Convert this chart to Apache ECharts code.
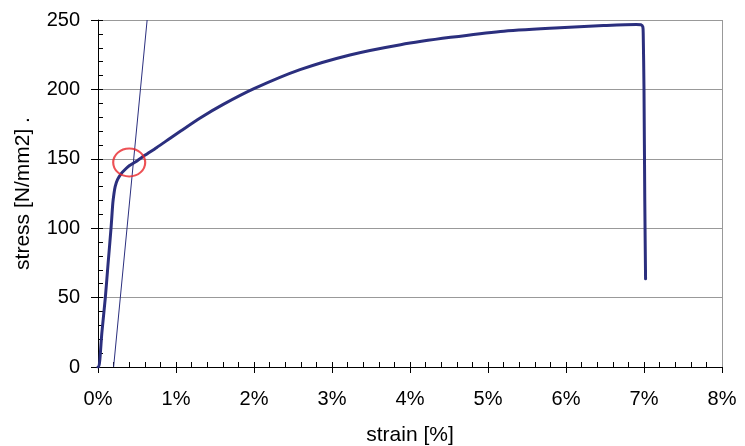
<!DOCTYPE html>
<html>
<head>
<meta charset="utf-8">
<script src="https://cdn.jsdelivr.net/npm/echarts@6/dist/echarts.min.js"></script>
<style>html,body{margin:0;padding:0;background:#fff}#c{width:745px;height:446px}</style>
</head>
<body>
<div id="c"></div>
<script>
// strain [%]
const curveStrain = [0.0, 0.01, 0.05, 0.094, 0.13, 0.167, 0.19, 0.205, 0.22, 0.25, 0.3, 0.35, 0.4, 0.5, 0.6, 0.75, 0.93, 1.06, 1.31, 1.6, 2.0, 2.59, 3.23, 3.88, 4.52, 5.16, 5.86, 6.48, 6.9, 6.96, 6.985, 6.99, 7.0, 7.01, 7.02];
// stress [N/mm2]
const curveStress = [0, 0, 25, 50, 75, 100, 118, 125, 130, 135, 139.5, 142.5, 145, 148.5, 152.5, 158, 165, 170, 179.4, 189, 200.5, 214.2, 224.8, 232.2, 237.5, 241.8, 244.3, 246, 246.8, 246.6, 245, 240, 200, 120, 63.5];
const offsetStrain = [0.2, 0.63];
const offsetStress = [0, 250];
const markStrain = [0.40];
const markStress = [147.3];
const xTicks = [0, 1, 2, 3, 4, 5, 6, 7, 8];
const yTicks = [0, 50, 100, 150, 200, 250];

const navy = '#2b2f7e';
const font = 'Liberation Sans, Arial, sans-serif';

const chart = echarts.init(document.getElementById('c'), null, {renderer: 'canvas'});
chart.setOption({
  animation: false,
  grid: {left: 98, right: 23, top: 20, bottom: 79, containLabel: false, outerBoundsMode: 'none'},
  xAxis: [{
    type: 'value', min: xTicks[0], max: xTicks[xTicks.length - 1], interval: 1,
    position: 'bottom',
    axisLine: {show: true, lineStyle: {color: '#000', width: 1}},
    axisTick: {show: true, inside: false, length: 6, lineStyle: {color: '#000'}},
    axisLabel: {formatter: v => v + '%', color: '#000', fontSize: 20, fontFamily: font, margin: 22},
    splitLine: {show: false},
    name: 'strain [%]', nameLocation: 'middle', nameGap: 58,
    nameTextStyle: {color: '#000', fontSize: 21, fontFamily: font}
  }, {
    type: 'value', min: xTicks[0], max: xTicks[xTicks.length - 1], interval: 1,
    position: 'bottom', gridIndex: 0,
    axisLine: {show: false},
    axisTick: {show: true, inside: true, length: 5, lineStyle: {color: '#000'}},
    minorTick: {show: true, splitNumber: 5, length: 5, lineStyle: {color: '#000'}},
    axisLabel: {show: false},
    splitLine: {show: false}
  }],
  yAxis: [{
    type: 'value', min: yTicks[0], max: yTicks[yTicks.length - 1], interval: 50,
    position: 'left',
    axisLine: {show: true, lineStyle: {color: '#000', width: 1}},
    axisTick: {show: true, inside: false, length: 7, lineStyle: {color: '#000'}},
    axisLabel: {color: '#000', fontSize: 20, fontFamily: font, margin: 18},
    splitLine: {show: true, lineStyle: {color: '#999', width: 1}},
    name: 'stress [N/mm2] .', nameLocation: 'middle', nameGap: 64, nameRotate: 90,
    nameTextStyle: {color: '#000', fontSize: 21, fontFamily: font}
  }, {
    type: 'value', min: yTicks[0], max: yTicks[yTicks.length - 1], interval: 50,
    position: 'left',
    axisLine: {show: false},
    axisTick: {show: true, inside: true, length: 5, lineStyle: {color: '#000'}},
    minorTick: {show: true, splitNumber: 5, length: 5, lineStyle: {color: '#000'}},
    axisLabel: {show: false},
    splitLine: {show: false}
  }],
  series: [{
    type: 'line',
    data: offsetStrain.map((x, i) => [x, offsetStress[i]]),
    showSymbol: false, symbol: 'none',
    lineStyle: {color: navy, width: 1},
    markLine: {
      silent: true, symbol: 'none', label: {show: false},
      lineStyle: {color: '#999', width: 1, type: 'solid'},
      data: [{xAxis: xTicks[xTicks.length - 1]}]
    },
    z: 3
  }, {
    type: 'line',
    data: curveStrain.map((x, i) => [x, curveStress[i]]),
    showSymbol: false, symbol: 'none',
    smooth: 0.25,
    lineStyle: {color: navy, width: 3, join: 'round', cap: 'round'},
    z: 4
  }, {
    type: 'scatter',
    data: markStrain.map((x, i) => [x, markStress[i]]),
    symbol: 'circle', symbolSize: [32, 28],
    itemStyle: {color: 'rgba(0,0,0,0)', borderColor: '#e8262a', borderWidth: 2},
    z: 5
  }]
});
</script>
</body>
</html>
